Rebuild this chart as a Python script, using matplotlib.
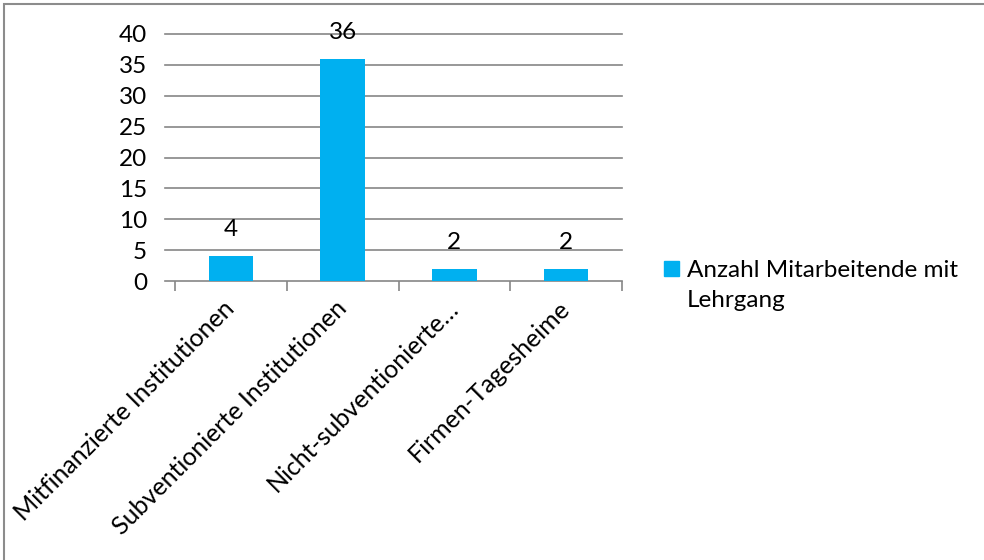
import matplotlib.pyplot as plt
import matplotlib.patches as patches

kategorien = ['Mitfinanzierte Institutionen', 'Subventionierte Institutionen',
              'Nicht-subventionierte…', 'Firmen-Tagesheime']
werte = [4, 36, 2, 2]
serie = ['Anzahl Mitarbeitende mit', 'Lehrgang']
yticks = [0, 5, 10, 15, 20, 25, 30, 35, 40]

plt.rcParams['font.family'] = ['Lato', 'DejaVu Sans']
grau = '#868686'
blau = '#00B0F0'
fs = 17.5

fig = plt.figure(figsize=(9.84, 5.6), dpi=100)
ax = fig.add_axes([175/984, 1-281/560, 447/984, 247/560])

x = range(len(werte))
bars = ax.bar(x, werte, width=0.4, color=blau, zorder=3)
for xi, v in zip(x, werte):
    ax.text(xi, v + 4.3, str(v), ha='center', va='center', fontsize=fs, color='black')

ax.set_xlim(-0.5, len(werte) - 0.5)
ax.set_ylim(0, 40)
ax.set_yticks(yticks)
ax.tick_params(axis='y', length=0, labelsize=fs, pad=20)
# Gitterlinien inkl. kleiner Verlaengerung nach links
for y in yticks:
    ax.plot([-0.5 - 10/111.75, len(werte) - 0.5], [y, y], color=grau, lw=1.2,
            clip_on=False, zorder=1)

ax.set_xticks([i - 0.5 for i in range(len(werte) + 1)], minor=False)
ax.set_xticklabels([])
ax.tick_params(axis='x', length=7, color=grau, width=1.2, direction='out')
ax.set_xticks(list(x), minor=True)
ax.set_xticklabels(kategorien, minor=True, rotation=45, ha='right', va='center',
                   rotation_mode='anchor', fontsize=18)
ax.tick_params(axis='x', which='minor', length=0, pad=17)

for s in ['top', 'right', 'left', 'bottom']:
    ax.spines[s].set_visible(False)

# Legende
fig.patches.append(patches.Rectangle((664/984, 1-276/560), 15/984, 15/560,
                                     transform=fig.transFigure, color=blau))
fig.text(687/984, 1-277/560, serie[0], fontsize=fs, va='baseline', ha='left')
fig.text(687/984, 1-307/560, serie[1], fontsize=fs, va='baseline', ha='left')

fig.patches.append(patches.Rectangle((4/984, -0.1), 1.2, 1 - 4/560 + 0.1,
                                     transform=fig.transFigure, fill=False,
                                     edgecolor='#8c8c8c', linewidth=1.5))

fig.savefig('out.png', dpi=100)
